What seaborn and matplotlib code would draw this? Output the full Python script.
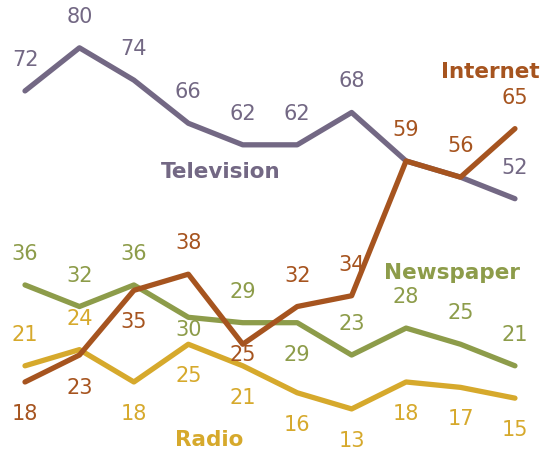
import matplotlib
matplotlib.use("Agg")
import matplotlib.pyplot as plt
import seaborn as sns
import pandas as pd

# ---- data ----
points = list(range(10))
television = [72, 80, 74, 66, 62, 62, 68, 59, 56, 52]
newspaper = [36, 32, 36, 30, 29, 29, 23, 28, 25, 21]
radio = [21, 24, 18, 25, 21, 16, 13, 18, 17, 15]
internet = [18, 23, 35, 38, 25, 32, 34, 59, 56, 65]
series_names = ["Television", "Newspaper", "Radio", "Internet"]

# ---- styling ----
colors = {"Television": "#736884", "Newspaper": "#8d9c4a",
          "Radio": "#d6a92c", "Internet": "#a6541f"}
# label placement per point: pixel offset (positive = above)
A, B = 31, -32
offsets = {
    "Television": [A, A, A, A, A, A, A, None, None, A],
    "Newspaper": [A, A, A, -13, A, B, A, A, A, A],
    "Radio": [A, A, B, B, B, B, B, B, B, B],
    "Internet": [B, -33, B, A, -11, A, A, A, A, A],
}
series_label_pos = {"Television": (221, 172), "Internet": (490, 72),
                    "Newspaper": (452, 273), "Radio": (209, 440)}

values = {"Television": television, "Newspaper": newspaper,
          "Radio": radio, "Internet": internet}
df = pd.DataFrame([{"point": p, "value": v, "series": s}
                   for s in series_names for p, v in zip(points, values[s])])

sns.set_theme(style="white")
plt.rcParams["font.family"] = ["DejaVu Sans"]

W, H = 542, 458
fig = plt.figure(figsize=(W / 100, H / 100), dpi=100)
ax = fig.add_axes([0, 0, 1, 1])
sns.lineplot(data=df, x="point", y="value", hue="series", hue_order=series_names,
             palette=colors, linewidth=3.8, legend=False, ax=ax,
             solid_capstyle="round")

px_step = 54.44
ax.set_xlim(-25 / px_step, (W - 25) / px_step)
ax.set_ylim((479 - H) / 5.39, 479 / 5.39)
ax.axis("off")

for s in series_names:
    for p, v, off in zip(points, values[s], offsets[s]):
        if off is None:
            continue
        ax.annotate(str(v), (p, v), xytext=(0, off), textcoords="offset pixels",
                    ha="center", va="center", fontsize=15, color=colors[s])
    x, y = series_label_pos[s]
    ax.text(x / W, 1 - y / H, s, transform=ax.transAxes, ha="center", va="center",
            fontsize=15.5, fontweight="bold", color=colors[s])

fig.savefig("out.png", dpi=100)
